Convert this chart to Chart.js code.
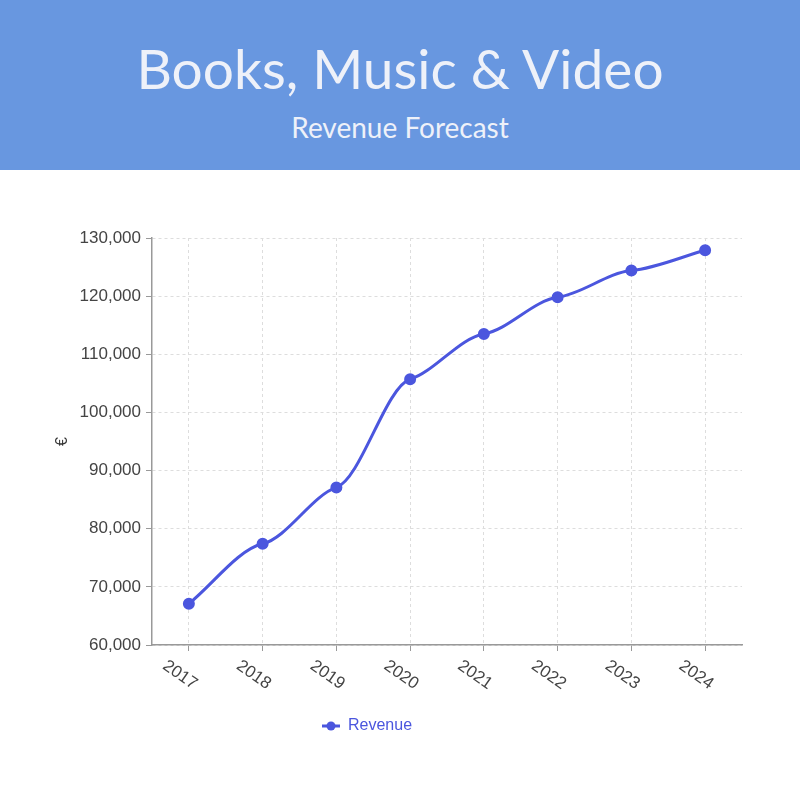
<!DOCTYPE html>
<html>
<head>
<meta charset="utf-8">
<script src="https://cdn.jsdelivr.net/npm/chart.js@4/dist/chart.umd.min.js"></script>
<style>
  html, body { margin: 0; padding: 0; background: #ffffff; }
  #header {
    width: 800px; height: 170px; background: #6897e0; color: #eef1f9;
    text-align: center; font-family: Lato, "Noto Sans", sans-serif; position: relative;
  }
  #title { position: absolute; left: 0; right: 0; top: 33px; font-size: 55px; line-height: 70px; font-weight: 400; }
  #subtitle { position: absolute; left: 0; right: 0; top: 109px; font-size: 28px; line-height: 36px; font-weight: 400; }
  #wrap { width: 800px; height: 630px; position: relative; }
</style>
</head>
<body>
<div id="header">
  <div id="title">Books, Music &amp; Video</div>
  <div id="subtitle">Revenue Forecast</div>
</div>
<div id="wrap"><canvas id="c"></canvas></div>
<script>
const years = ['2017', '2018', '2019', '2020', '2021', '2022', '2023', '2024'];
const revenue = [67100, 77400, 87100, 105700, 113500, 119800, 124400, 127900];
const seriesName = 'Revenue';
const yAxisTitle = '€';

const lineColor = '#4b56de';
const FONT = '"Liberation Sans", Arial, sans-serif';

// legend icon: line with a dot in the middle
const icon = document.createElement('canvas');
icon.width = 18; icon.height = 10;
(function () {
  const g = icon.getContext('2d');
  g.strokeStyle = lineColor; g.lineWidth = 3;
  g.beginPath(); g.moveTo(0, 5); g.lineTo(18, 5); g.stroke();
  g.fillStyle = lineColor;
  g.beginPath(); g.arc(9, 5, 4.5, 0, Math.PI * 2); g.fill();
})();

// smoothing like the reference: small tangents at inner points
const softCurve = {
  id: 'softCurve',
  beforeDatasetDraw(chart, args) {
    const meta = args.meta;
    const line = meta.dataset;
    const pts = meta.data;
    if (!line || !pts || pts.length < 2) return;
    line.updateControlPoints(chart.chartArea);
    const n = pts.length, k = 0.3;
    const m = [];
    for (let i = 0; i < n; i++) {
      if (i === 0) m[i] = (pts[1].y - pts[0].y) / (pts[1].x - pts[0].x);
      else if (i === n - 1) m[i] = (pts[n - 1].y - pts[n - 2].y) / (pts[n - 1].x - pts[n - 2].x);
      else m[i] = k * (pts[i + 1].y - pts[i - 1].y) / (pts[i + 1].x - pts[i - 1].x);
    }
    for (let i = 0; i < n; i++) {
      const p = pts[i];
      const dPrev = i > 0 ? (p.x - pts[i - 1].x) / 3 : 0;
      const dNext = i < n - 1 ? (pts[i + 1].x - p.x) / 3 : 0;
      p.cp1x = p.x - dPrev; p.cp1y = p.y - m[i] * dPrev;
      p.cp2x = p.x + dNext; p.cp2y = p.y + m[i] * dNext;
    }
  }
};

const rotatedXLabels = {
  id: 'rotatedXLabels',
  afterDraw(chart) {
    const xs = chart.scales.x;
    const ctx = chart.ctx;
    ctx.save();
    ctx.font = '17px ' + FONT;
    ctx.fillStyle = '#444444';
    ctx.textAlign = 'center';
    ctx.textBaseline = 'middle';
    years.forEach((lab, i) => {
      const x = xs.getPixelForTick(i);
      ctx.save();
      ctx.translate(x - 9, xs.top + 30);
      ctx.rotate(35 * Math.PI / 180);
      ctx.fillText(lab, 0, 0);
      ctx.restore();
    });
    ctx.restore();
  }
};

const shiftLegend = {
  id: 'shiftLegend',
  afterLayout(chart) {
    const lg = chart.legend;
    if (!lg) return;
    const shift = 367 - (lg.left + lg.right) / 2;
    lg.left += shift; lg.right += shift;
  }
};

new Chart(document.getElementById('c'), {
  type: 'line',
  data: {
    labels: years,
    datasets: [{
      label: seriesName,
      data: revenue,
      borderColor: lineColor,
      backgroundColor: lineColor,
      borderWidth: 3,
      pointRadius: 4.5,
      pointBackgroundColor: lineColor,
      pointBorderColor: lineColor,
      pointStyle: 'circle',
      tension: 0.3,
      fill: false
    }]
  },
  options: {
    responsive: true,
    maintainAspectRatio: false,
    animation: false,
    layout: { padding: { left: 49, right: 58, top: 68, bottom: 56 } },
    plugins: {
      tooltip: { enabled: false },
      legend: {
        position: 'bottom',
        labels: {
          usePointStyle: true,
          pointStyle: icon,
          pointStyleWidth: 18,
          color: lineColor,
          font: { size: 16, family: FONT },
          padding: 10,
          generateLabels(chart) {
            return chart.data.datasets.map((ds, i) => ({
              text: ds.label, fillStyle: lineColor, strokeStyle: lineColor,
              pointStyle: icon, datasetIndex: i, lineWidth: 0, fontColor: lineColor
            }));
          }
        }
      }
    },
    scales: {
      x: {
        offset: true,
        grid: { offset: false, color: '#dddddd', tickColor: '#999999', tickLength: 6, drawTicks: true },
        border: { color: '#999999', width: 1.5, dash: [3, 3] },
        ticks: { display: false },
        afterFit(scale) { scale.height = 63; }
      },
      y: {
        min: 60000,
        max: 130000,
        grid: { color: '#dddddd', tickColor: '#999999', tickLength: 6 },
        border: { color: '#999999', width: 1.5, dash: [3, 3] },
        ticks: {
          stepSize: 10000,
          padding: 5,
          color: '#444444',
          font: { size: 17, family: FONT }
        },
        title: {
          display: true,
          text: yAxisTitle,
          color: '#333333',
          font: { size: 16, family: FONT }
        },
        afterFit(scale) { scale.width = 103; }
      }
    }
  },
  plugins: [softCurve, rotatedXLabels, shiftLegend]
});
</script>
</body>
</html>
